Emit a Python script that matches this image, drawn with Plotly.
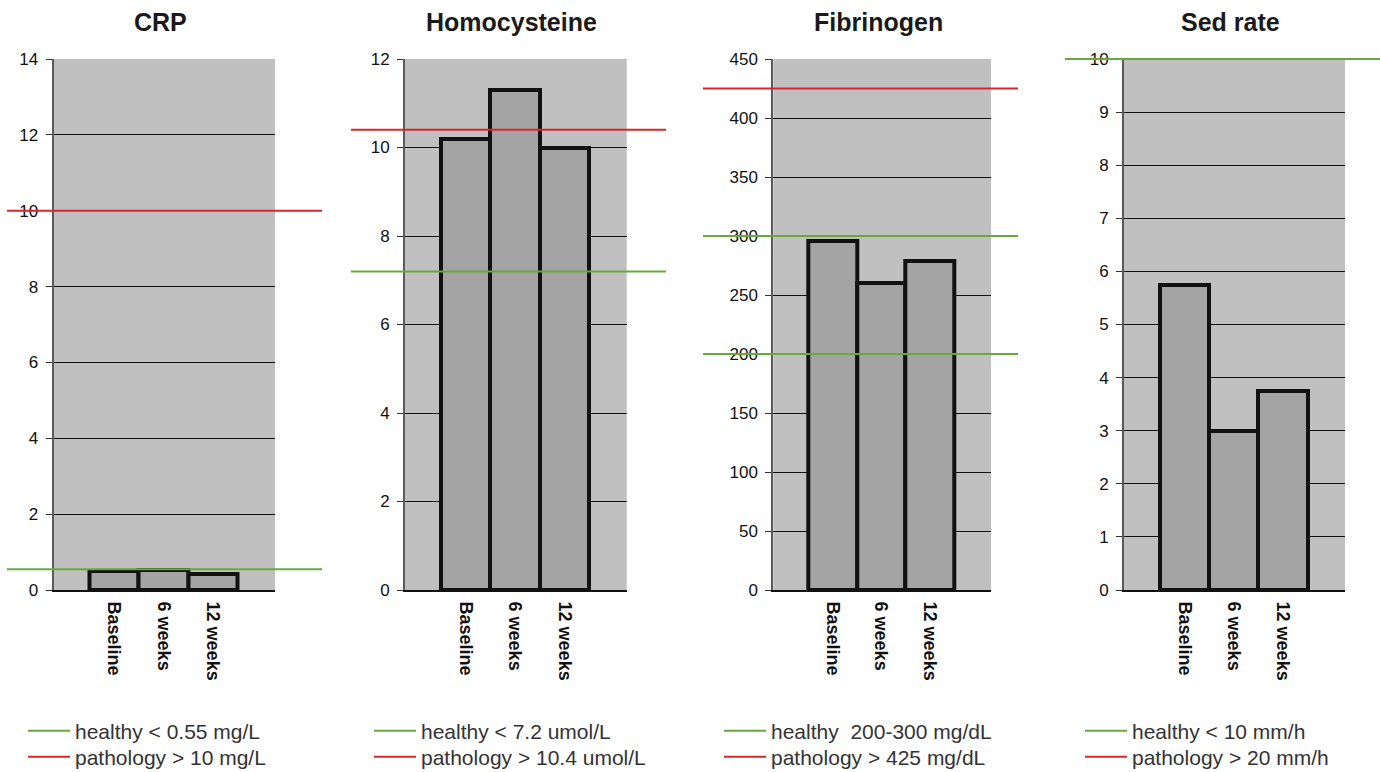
import plotly.graph_objects as go

# Measurement time points
periods = ["Baseline", "6 weeks", "12 weeks"]

panel_titles = ["CRP", "Homocysteine", "Fibrinogen", "Sed rate"]

# Measured values per marker
crp_values = [0.5, 0.53, 0.42]
homocysteine_values = [10.2, 11.3, 10.0]
fibrinogen_values = [296, 260, 279]
sed_rate_values = [5.75, 3.0, 3.75]

# Reference thresholds
crp_healthy = [0.55]
crp_pathology = [10]
homocysteine_healthy = [7.2]
homocysteine_pathology = [10.4]
fibrinogen_healthy = [200, 300]
fibrinogen_pathology = [425]
sed_rate_healthy = [10]
sed_rate_pathology = [20]

healthy_labels = ["healthy < 0.55 mg/L", "healthy < 7.2 umol/L",
                  "healthy  200-300 mg/dL", "healthy < 10 mm/h"]
pathology_labels = ["pathology > 10 mg/L", "pathology > 10.4 umol/L",
                    "pathology > 425 mg/dL", "pathology > 20 mm/h"]

# Y axis scales
y_max = [14, 12, 450, 10]
y_step = [2, 2, 50, 1]

values = [crp_values, homocysteine_values, fibrinogen_values, sed_rate_values]
healthy = [crp_healthy, homocysteine_healthy, fibrinogen_healthy, sed_rate_healthy]
pathology = [crp_pathology, homocysteine_pathology, fibrinogen_pathology, sed_rate_pathology]

W, H = 1380, 772
GREEN = "#6aa83e"
RED = "#d8262c"
PLOT_BG = "#c0c0c0"
FONT = "Liberation Sans, Arial, sans-serif"

# Panel placement in pixels: (plot left, plot right, ref line left, ref line right, legend left)
panels_px = [
    (53.5, 275.0, 7, 322, 23),
    (405.0, 626.7, 351, 666, 369),
    (773.3, 991.0, 703, 1018, 719),
    (1124.0, 1345.0, 1065, 1390, 1080),
]
plot_top, plot_bottom = 59, 590
y_dom = [1 - plot_bottom / H, 1 - plot_top / H]
legend_rows_px = [731, 757]  # vertical centre of each legend entry

fig = go.Figure()
shapes = []
annotations = []
layout = {}


def add_legend(idx, left_px, row_px):
    name = "legend" if idx == 1 else "legend" + str(idx)
    layout[name] = dict(
        x=left_px / W, xanchor="left",
        y=1 - row_px / H, yanchor="middle",
        bgcolor="rgba(0,0,0,0)", borderwidth=0,
        font=dict(family=FONT, size=21, color="#333333"),
        itemwidth=42,
    )
    return name


for i in range(4):
    n = "" if i == 0 else str(i + 1)
    xa, ya = "x" + n, "y" + n
    left, right, l0, l1, leg_x = panels_px[i]
    span = right - left

    fig.add_trace(go.Bar(
        x=periods, y=values[i], xaxis=xa, yaxis=ya,
        marker=dict(color="#a4a4a4", line=dict(color="#111111", width=4)),
        showlegend=False, hoverinfo="x+y",
    ))

    layout["xaxis" + n] = dict(
        domain=[left / W, right / W], anchor=ya,
        type="category", range=[-1.225, 3.26],
        showgrid=False, zeroline=False,
        showline=True, linecolor="#111111", linewidth=2,
        ticks="", tickangle=90, ticklabelstandoff=6,
        tickfont=dict(family=FONT, size=18, color="#111111", weight="bold"),
        fixedrange=True,
    )
    layout["yaxis" + n] = dict(
        domain=y_dom, anchor=xa,
        range=[0, y_max[i]], dtick=y_step[i], tick0=0,
        showgrid=True, gridcolor="#111111", gridwidth=1,
        zeroline=False,
        showline=True, linecolor="#5a5a5a", linewidth=2,
        ticks="outside", ticklen=6, tickcolor="#333333", tickwidth=1,
        ticklabelstandoff=4,
        tickfont=dict(family=FONT, size=17, color="#111111"),
        fixedrange=True,
    )

    # Panel background, painted under the gridlines
    shapes.append(dict(
        type="rect", xref=xa + " domain", yref=ya + " domain",
        x0=0, x1=1, y0=0, y1=1, fillcolor=PLOT_BG, line=dict(width=0),
        layer="below",
    ))

    # Hidden companion axis with the same scale, stretched to the top of the
    # page, so threshold lines sitting on the top gridline are not cut in half.
    ref_n = str(i + 5)
    ref_top = y_max[i] * plot_bottom / (plot_bottom - plot_top)
    layout["yaxis" + ref_n] = dict(
        domain=[y_dom[0], 1.0], range=[0, ref_top],
        visible=False, anchor="free", position=0, fixedrange=True,
    )
    ref_ya = "y" + ref_n

    leg_healthy = add_legend(2 * i + 1, leg_x, legend_rows_px[0])
    leg_patho = add_legend(2 * i + 2, leg_x, legend_rows_px[1])

    x0 = (l0 - left) / span
    x1 = (l1 - left) / span
    for k, v in enumerate(healthy[i]):
        shapes.append(dict(
            type="line", xref=xa + " domain", yref=ref_ya, x0=x0, x1=x1, y0=v, y1=v,
            line=dict(color=GREEN, width=2), layer="above",
            showlegend=(k == 0), name=healthy_labels[i], legend=leg_healthy,
        ))
    for k, v in enumerate(pathology[i]):
        shapes.append(dict(
            type="line", xref=xa + " domain", yref=ref_ya, x0=x0, x1=x1, y0=v, y1=v,
            line=dict(color=RED, width=2), layer="above",
            showlegend=(k == 0), name=pathology_labels[i], legend=leg_patho,
        ))

    annotations.append(dict(
        text="<b>" + panel_titles[i] + "</b>", xref="paper", yref="paper",
        x=(left + right) / 2 / W - 0.003, y=1 - 22 / H,
        xanchor="center", yanchor="middle", showarrow=False,
        font=dict(family=FONT, size=25, color="#1a1a1a"),
    ))

fig.update_layout(
    width=W, height=H,
    margin=dict(l=0, r=0, t=0, b=0, autoexpand=False),
    paper_bgcolor="white", plot_bgcolor="rgba(0,0,0,0)",
    bargap=0,
    shapes=shapes, annotations=annotations,
    **layout,
)

fig.write_html("out.html", config={"displayModeBar": False})
